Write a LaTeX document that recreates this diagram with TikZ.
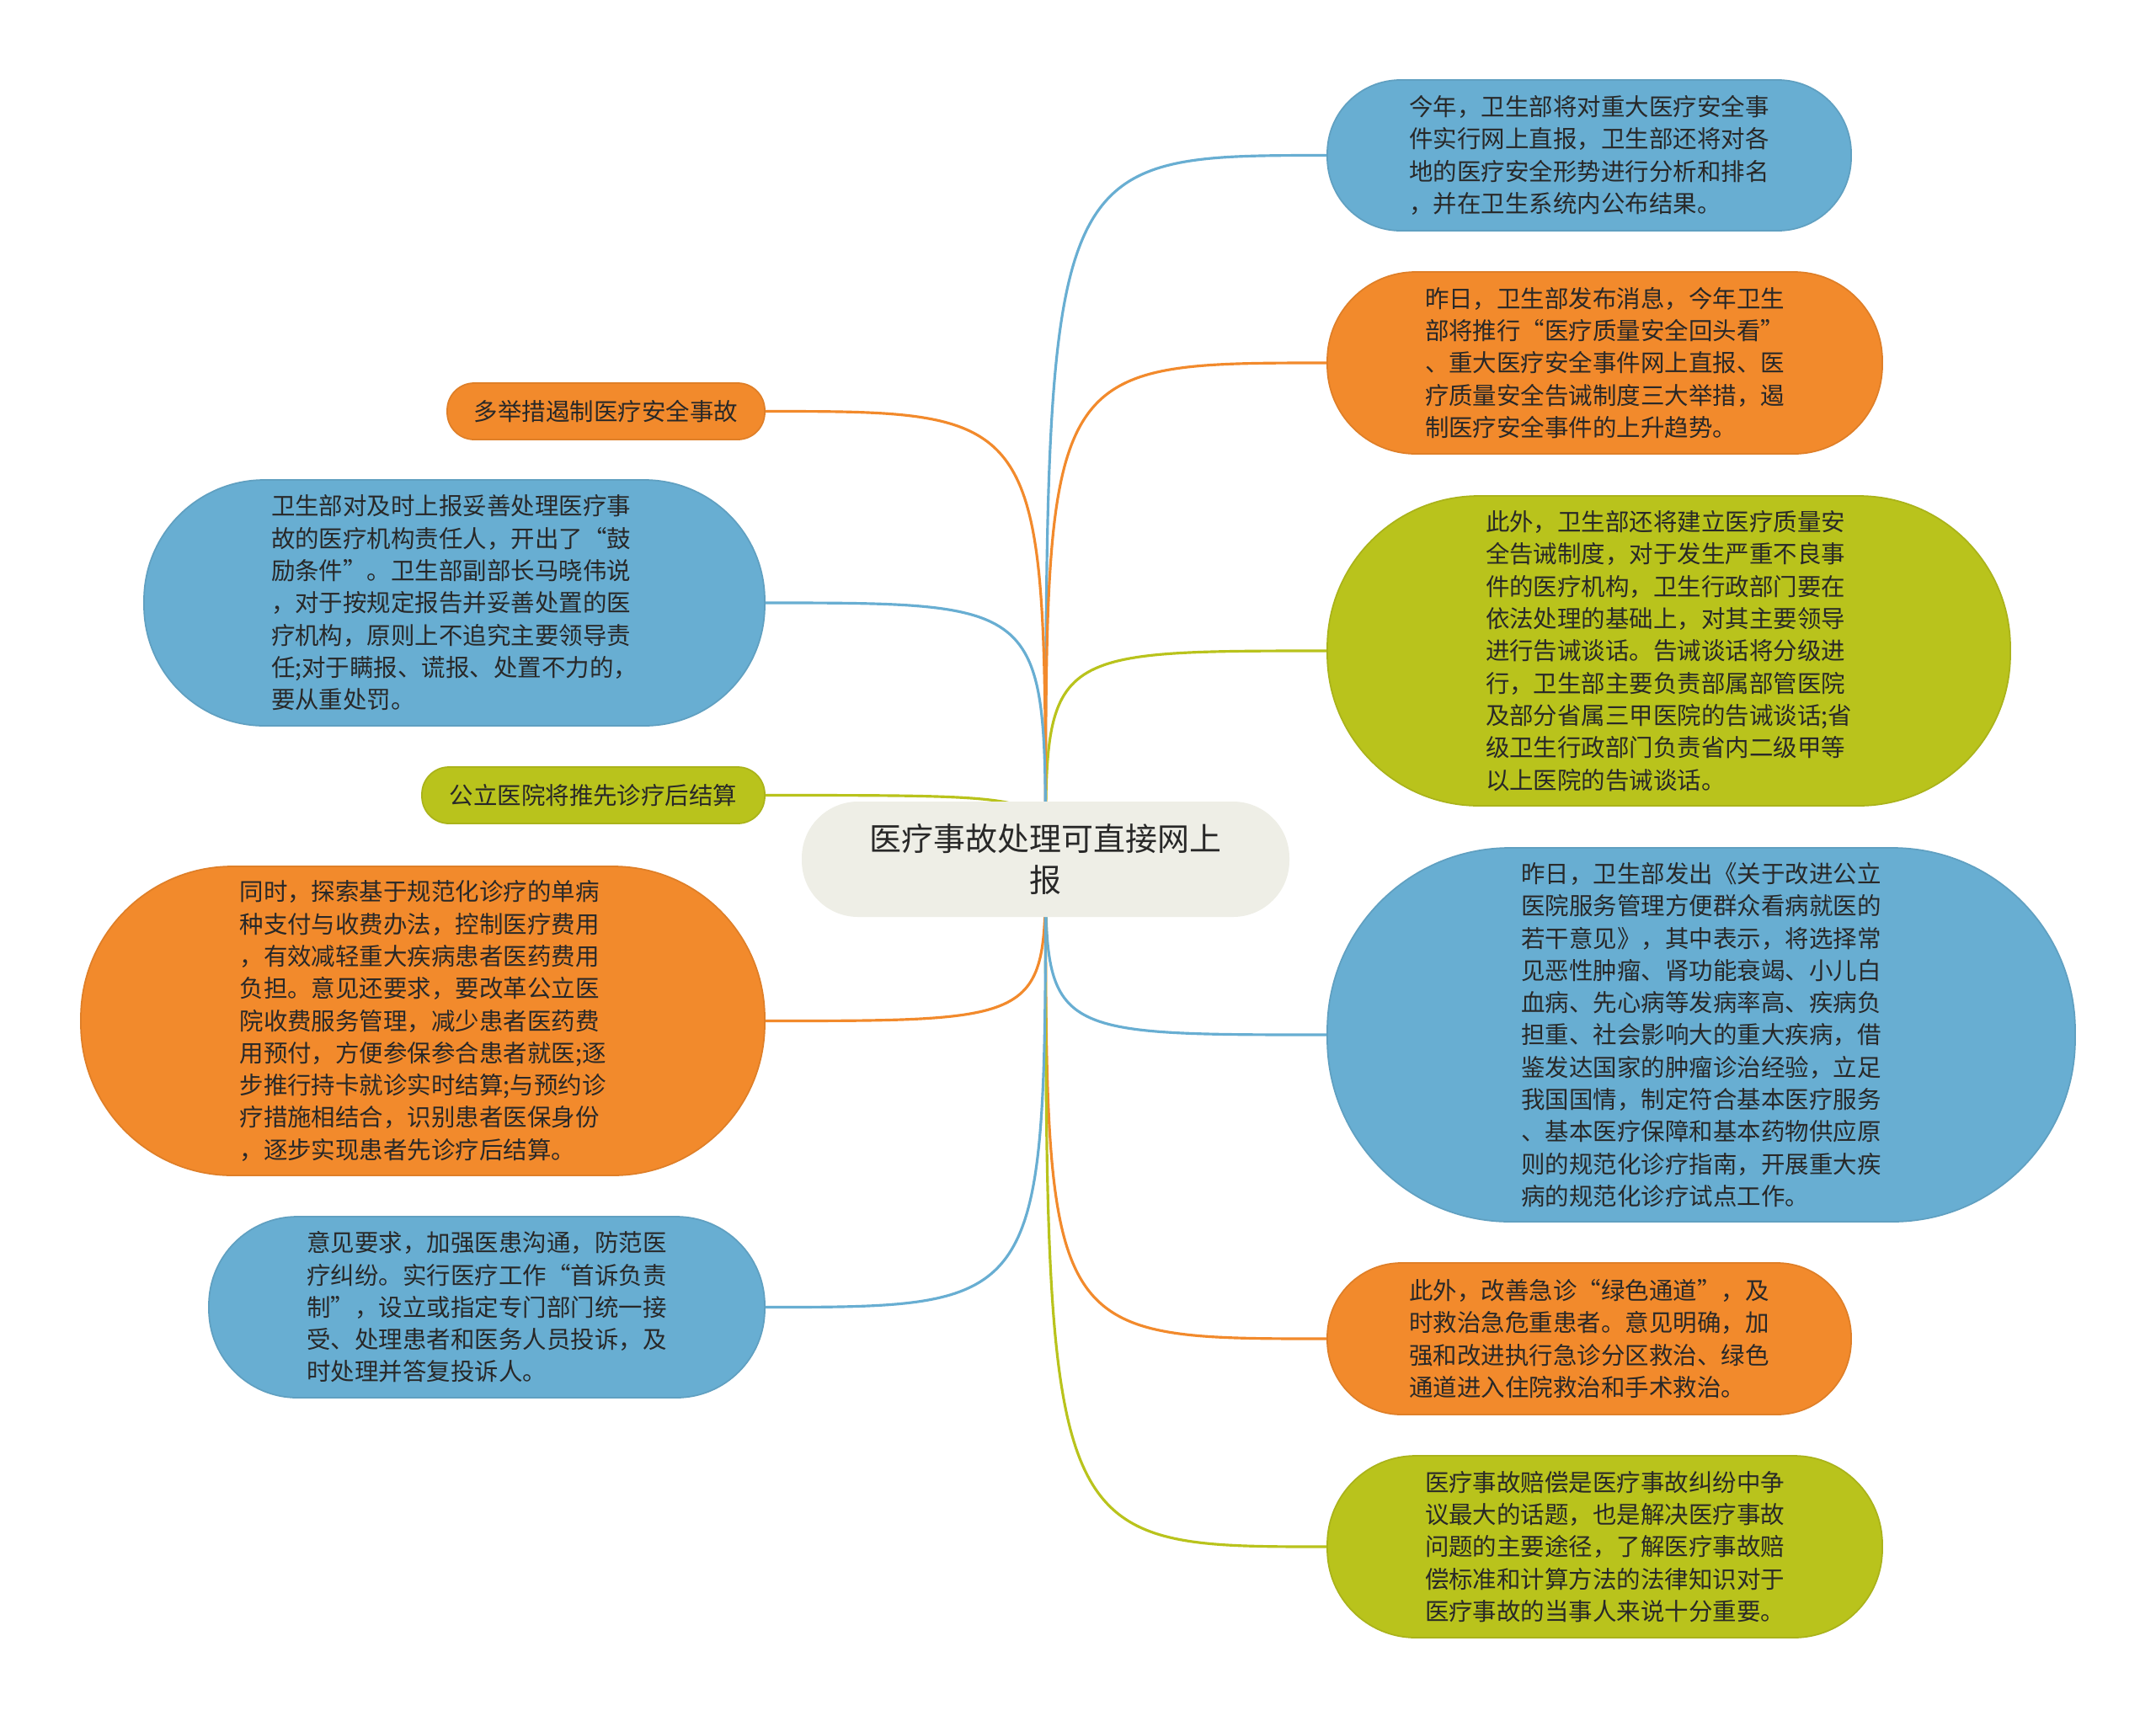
\documentclass[tikz,border=0pt]{standalone}
\usepackage{fontspec}
\usepackage{xcolor}
\usepackage{tikz}
\usetikzlibrary{backgrounds}
\newfontfamily\cjk{Noto Sans CJK SC}

\definecolor{mapblue}{RGB}{104,174,210}
\definecolor{maporange}{RGB}{242,138,44}
\definecolor{mapgreen}{RGB}{185,195,28}
\definecolor{mapcore}{RGB}{238,238,230}
\definecolor{maptext}{RGB}{40,40,40}

\tikzset{
  card/.style={align=left, inner sep=0pt, text=maptext, line width=0.5pt,
    font=\cjk\fontsize{8.1}{10.9}\selectfont},
  bluecard/.style={card, fill=mapblue, draw=mapblue!92!black},
  orangecard/.style={card, fill=maporange, draw=maporange!92!black},
  greencard/.style={card, fill=mapgreen, draw=mapgreen!92!black},
  link/.style={line width=0.9pt}
}

\begin{document}
\begin{tikzpicture}
    \useasboundingbox (0,0) rectangle (25.6,-20.43);

    \node[card, fill=mapcore, align=center, minimum width=5.79cm, minimum height=1.37cm,
      rounded corners=0.67cm, font=\cjk\fontsize{10.8}{13.9}\selectfont] (core) at (12.415,-10.205)
      {医疗事故处理可直接网上\\报};

    \node[bluecard, minimum width=6.22cm, minimum height=1.79cm, rounded corners=0.87cm] (r1) at (18.87,-1.845)
      {今年，卫生部将对重大医疗安全事\\件实行网上直报，卫生部还将对各\\地的医疗安全形势进行分析和排名\\，并在卫生系统内公布结果。};
    \node[orangecard, minimum width=6.59cm, minimum height=2.16cm, rounded corners=1.05cm] (r2) at (19.055,-4.31)
      {昨日，卫生部发布消息，今年卫生\\部将推行“医疗质量安全回头看”\\、重大医疗安全事件网上直报、医\\疗质量安全告诫制度三大举措，遏\\制医疗安全事件的上升趋势。};
    \node[greencard, minimum width=8.11cm, minimum height=3.68cm, rounded corners=1.8cm] (r3) at (19.815,-7.73)
      {此外，卫生部还将建立医疗质量安\\全告诫制度，对于发生严重不良事\\件的医疗机构，卫生行政部门要在\\依法处理的基础上，对其主要领导\\进行告诫谈话。告诫谈话将分级进\\行，卫生部主要负责部属部管医院\\及部分省属三甲医院的告诫谈话;省\\级卫生行政部门负责省内二级甲等\\以上医院的告诫谈话。};
    \node[bluecard, minimum width=8.88cm, minimum height=4.44cm, rounded corners=2.17cm] (r4) at (20.2,-12.29)
      {昨日，卫生部发出《关于改进公立\\医院服务管理方便群众看病就医的\\若干意见》，其中表示，将选择常\\见恶性肿瘤、肾功能衰竭、小儿白\\血病、先心病等发病率高、疾病负\\担重、社会影响大的重大疾病，借\\鉴发达国家的肿瘤诊治经验，立足\\我国国情，制定符合基本医疗服务\\、基本医疗保障和基本药物供应原\\则的规范化诊疗指南，开展重大疾\\病的规范化诊疗试点工作。};
    \node[orangecard, minimum width=6.22cm, minimum height=1.8cm, rounded corners=0.88cm] (r5) at (18.87,-15.9)
      {此外，改善急诊“绿色通道”，及\\时救治急危重患者。意见明确，加\\强和改进执行急诊分区救治、绿色\\通道进入住院救治和手术救治。};
    \node[greencard, minimum width=6.59cm, minimum height=2.16cm, rounded corners=1.05cm] (r6) at (19.055,-18.37)
      {医疗事故赔偿是医疗事故纠纷中争\\议最大的话题，也是解决医疗事故\\问题的主要途径，了解医疗事故赔\\偿标准和计算方法的法律知识对于\\医疗事故的当事人来说十分重要。};

    \node[orangecard, minimum width=3.77cm, minimum height=0.67cm, rounded corners=0.32cm] (l1) at (7.195,-4.885)
      {多举措遏制医疗安全事故};
    \node[bluecard, minimum width=7.37cm, minimum height=2.92cm, rounded corners=1.43cm] (l2) at (5.395,-7.16)
      {卫生部对及时上报妥善处理医疗事\\故的医疗机构责任人，开出了“鼓\\励条件”。卫生部副部长马晓伟说\\，对于按规定报告并妥善处置的医\\疗机构，原则上不追究主要领导责\\任;对于瞒报、谎报、处置不力的，\\要从重处罚。};
    \node[greencard, minimum width=4.07cm, minimum height=0.67cm, rounded corners=0.32cm] (l3) at (7.045,-9.445)
      {公立医院将推先诊疗后结算};
    \node[orangecard, minimum width=8.12cm, minimum height=3.67cm, rounded corners=1.8cm] (l4) at (5.02,-12.125)
      {同时，探索基于规范化诊疗的单病\\种支付与收费办法，控制医疗费用\\，有效减轻重大疾病患者医药费用\\负担。意见还要求，要改革公立医\\院收费服务管理，减少患者医药费\\用预付，方便参保参合患者就医;逐\\步推行持卡就诊实时结算;与预约诊\\疗措施相结合，识别患者医保身份\\，逐步实现患者先诊疗后结算。};
    \node[bluecard, minimum width=6.6cm, minimum height=2.15cm, rounded corners=1.05cm] (l5) at (5.78,-15.525)
      {意见要求，加强医患沟通，防范医\\疗纠纷。实行医疗工作“首诉负责\\制”，设立或指定专门部门统一接\\受、处理患者和医务人员投诉，及\\时处理并答复投诉人。};

    \begin{pgfonlayer}{background}
    \fill[white] (0,0) rectangle (25.6,-20.43);
    \draw[link, mapblue] (core.center) .. controls (core.center |- r1.west) .. (r1.west);
    \draw[link, maporange] (core.center) .. controls (core.center |- r2.west) .. (r2.west);
    \draw[link, mapgreen] (core.center) .. controls (core.center |- r3.west) .. (r3.west);
    \draw[link, mapblue] (core.center) .. controls (core.center |- r4.west) .. (r4.west);
    \draw[link, maporange] (core.center) .. controls (core.center |- r5.west) .. (r5.west);
    \draw[link, mapgreen] (core.center) .. controls (core.center |- r6.west) .. (r6.west);
    \draw[link, maporange] (core.center) .. controls (core.center |- l1.east) .. (l1.east);
    \draw[link, mapblue] (core.center) .. controls (core.center |- l2.east) .. (l2.east);
    \draw[link, mapgreen] (core.center) .. controls (core.center |- l3.east) .. (l3.east);
    \draw[link, maporange] (core.center) .. controls (core.center |- l4.east) .. (l4.east);
    \draw[link, mapblue] (core.center) .. controls (core.center |- l5.east) .. (l5.east);
    \end{pgfonlayer}
\end{tikzpicture}
\end{document}
